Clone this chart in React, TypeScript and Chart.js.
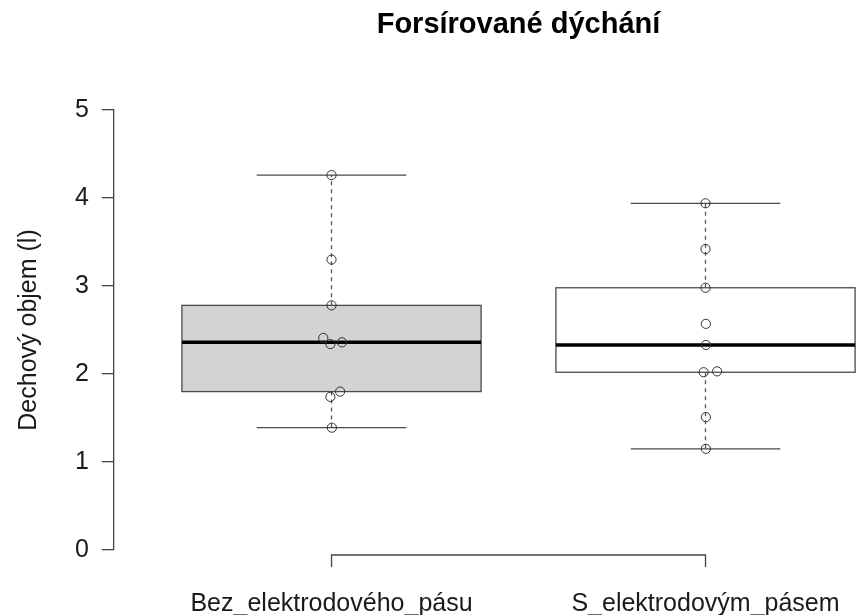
import React, { useEffect, useRef } from "react";
import { Chart, registerables } from "chart.js";

Chart.register(...registerables);

// ---- data ----
const chartTitle = "Forsírované dýchání";
const yAxisTitle = "Dechový objem (l)";
const categories = ["Bez_elektrodového_pásu", "S_elektrodovým_pásem"];
const groupPositions = [1, 2];
const yTicks = [0, 1, 2, 3, 4, 5];

const bezValues = [4.26, 3.3, 2.78, 2.41, 2.34, 2.36, 1.8, 1.74, 1.39];
const bezJitter = [1.0, 1.0, 1.0, 0.978, 0.997, 1.028, 1.023, 0.997, 1.001];

const sValues = [3.94, 3.42, 2.98, 2.57, 2.33, 2.02, 2.03, 1.51, 1.15];
const sJitter = [2.0, 2.0, 2.0, 2.001, 2.001, 1.995, 2.031, 2.001, 2.001];

const boxFills = ["#d3d3d3", "#ffffff"];

const FONT = "'Liberation Sans', Arial, Helvetica, sans-serif";
const BOX_HALF = 0.4;

// Tukey five-number summary (as R's boxplot uses)
function fivenum(a: number[]) {
  const s = [...a].sort((p, q) => p - q);
  const n = s.length;
  const n4 = Math.floor((n + 3) / 2) / 2;
  const d = [1, n4, (n + 1) / 2, n + 1 - n4, n];
  const v = d.map(
    (x) => 0.5 * (s[Math.floor(x) - 1] + s[Math.ceil(x) - 1])
  );
  return { min: v[0], q1: v[1], med: v[2], q3: v[3], max: v[4] };
}

const groups = [bezValues, sValues];

const rBoxPlugin = {
  id: "rBox",
  beforeDatasetsDraw(chart: any) {
    const { ctx } = chart;
    const x = chart.scales.x;
    const y = chart.scales.y;
    ctx.save();
    groups.forEach((vals, i) => {
      const st = fivenum(vals);
      const pos = groupPositions[i];
      const cx = x.getPixelForValue(pos);
      const left = x.getPixelForValue(pos - BOX_HALF);
      const right = x.getPixelForValue(pos + BOX_HALF);
      const capL = x.getPixelForValue(pos - BOX_HALF / 2);
      const capR = x.getPixelForValue(pos + BOX_HALF / 2);
      const yq1 = y.getPixelForValue(st.q1);
      const yq3 = y.getPixelForValue(st.q3);
      const ymed = y.getPixelForValue(st.med);
      const ymin = y.getPixelForValue(st.min);
      const ymax = y.getPixelForValue(st.max);

      // box
      ctx.fillStyle = boxFills[i];
      ctx.fillRect(left, yq3, right - left, yq1 - yq3);
      ctx.strokeStyle = "#4a4a4a";
      ctx.lineWidth = 1.3;
      ctx.setLineDash([]);
      ctx.strokeRect(left, yq3, right - left, yq1 - yq3);

      // whiskers (dashed)
      ctx.strokeStyle = "#555";
      ctx.lineWidth = 1.3;
      ctx.setLineDash([4, 4]);
      ctx.beginPath();
      ctx.moveTo(cx, yq3);
      ctx.lineTo(cx, ymax);
      ctx.moveTo(cx, yq1);
      ctx.lineTo(cx, ymin);
      ctx.stroke();

      // caps
      ctx.setLineDash([]);
      ctx.strokeStyle = "#4a4a4a";
      ctx.beginPath();
      ctx.moveTo(capL, ymax);
      ctx.lineTo(capR, ymax);
      ctx.moveTo(capL, ymin);
      ctx.lineTo(capR, ymin);
      ctx.stroke();

      // median
      ctx.strokeStyle = "#000";
      ctx.lineWidth = 3.5;
      ctx.beginPath();
      ctx.moveTo(left, ymed);
      ctx.lineTo(right, ymed);
      ctx.stroke();
    });
    ctx.restore();
  },
  afterDraw(chart: any) {
    const { ctx, chartArea } = chart;
    const x = chart.scales.x;
    ctx.save();
    // R-style x axis spanning first to last group
    const axY = chartArea.bottom + 5;
    const x1 = x.getPixelForValue(groupPositions[0]);
    const x2 = x.getPixelForValue(groupPositions[groupPositions.length - 1]);
    ctx.strokeStyle = "#444";
    ctx.lineWidth = 1.3;
    ctx.beginPath();
    ctx.moveTo(x1, axY + 12);
    ctx.lineTo(x1, axY);
    ctx.lineTo(x2, axY);
    ctx.lineTo(x2, axY + 12);
    ctx.stroke();

    // main title centred on the plot region (centre of xlim 0.5..2.5)
    ctx.fillStyle = "#000";
    ctx.font = `bold 29px ${FONT}`;
    ctx.textAlign = "center";
    ctx.textBaseline = "alphabetic";
    ctx.fillText(chartTitle, x.getPixelForValue(1.5), 33);
    ctx.restore();
  },
};

export default function App() {
  const ref = useRef<HTMLCanvasElement | null>(null);

  useEffect(() => {
    if (!ref.current) return;
    const pointStyle = {
      pointRadius: 4.6,
      pointStyle: "circle",
      borderColor: "#333",
      backgroundColor: "rgba(0,0,0,0)",
      borderWidth: 1,
      pointHoverRadius: 4.6,
    };
    const chart = new Chart(ref.current, {
      type: "scatter",
      data: {
        datasets: [
          {
            label: categories[0],
            data: bezValues.map((v, i) => ({ x: bezJitter[i], y: v })),
            ...pointStyle,
          },
          {
            label: categories[1],
            data: sValues.map((v, i) => ({ x: sJitter[i], y: v })),
            ...pointStyle,
          },
        ],
      },
      options: {
        animation: false,
        responsive: false,
        maintainAspectRatio: false,
        layout: {
          autoPadding: false,
          padding: { top: 110, left: 0, right: 0, bottom: 0 },
        },
        plugins: {
          legend: { display: false },
          tooltip: { enabled: false },
          title: { display: false },
        },
        scales: {
          x: {
            type: "linear",
            min: 0.4184,
            max: 2.4024,
            afterBuildTicks: (s: any) => {
              s.ticks = groupPositions.map((v) => ({ value: v }));
            },
            ticks: {
              autoSkip: false,
              maxRotation: 0,
              padding: 0,
              color: "#1a1a1a",
              font: { family: FONT, size: 25 },
              callback: (v: any) => {
                const i = groupPositions.indexOf(Number(v));
                return i >= 0 ? categories[i] : "";
              },
            },
            grid: { display: false, drawTicks: true, tickLength: 39 },
            border: { display: false },
            afterFit: (s: any) => {
              s.height = 65;
              s.paddingLeft = 0;
              s.paddingRight = 0;
            },
          },
          y: {
            type: "linear",
            min: 0,
            max: 5,
            afterBuildTicks: (s: any) => {
              s.ticks = yTicks.map((v) => ({ value: v }));
            },
            ticks: {
              padding: 13,
              color: "#1a1a1a",
              font: { family: FONT, size: 25 },
            },
            grid: {
              drawOnChartArea: false,
              drawTicks: true,
              tickLength: 12,
              color: "#444",
              lineWidth: 1.3,
            },
            border: { display: true, color: "#444", width: 1.3 },
            title: {
              display: true,
              text: yAxisTitle,
              color: "#1a1a1a",
              font: { family: FONT, size: 25 },
              padding: { top: 14, bottom: 0 },
            },
            afterFit: (s: any) => {
              s.width = 114;
            },
          },
        },
      },
      plugins: [rBoxPlugin],
    });
    return () => chart.destroy();
  }, []);

  return (
    <div style={{ position: "absolute", left: 0, top: 0, width: 856, height: 615 }}>
      <canvas ref={ref} width={856} height={615} />
    </div>
  );
}
